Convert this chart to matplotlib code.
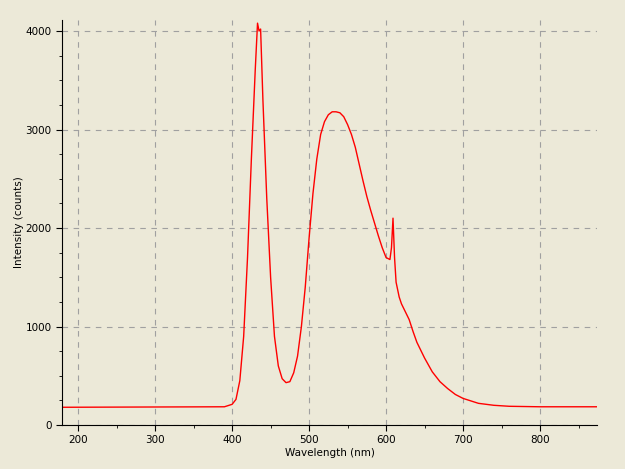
import matplotlib
matplotlib.use("Agg")
import matplotlib.pyplot as plt
from matplotlib.ticker import MultipleLocator

wavelength = [180, 390, 400, 405, 410, 415, 420, 425, 430, 433, 435, 437, 440, 445, 450, 455, 460, 465, 470, 475,
              480, 485, 490, 495, 500, 505, 510, 515, 520, 525, 530, 535, 540, 545, 550, 555, 560, 565, 570, 575,
              580, 585, 590, 595, 600, 605, 607, 609, 611, 613, 617, 620, 625, 630, 635, 640, 650, 660, 670, 680,
              690, 700, 720, 740, 760, 800, 875]
intensity = [180, 185, 210, 260, 450, 900, 1700, 2700, 3600, 4080, 4000, 4020, 3300, 2300, 1500, 900, 600, 470, 430, 440,
             530, 700, 1000, 1400, 1900, 2350, 2700, 2950, 3080, 3150, 3180, 3180, 3170, 3130, 3050, 2950, 2820, 2650, 2480, 2320,
             2180, 2050, 1920, 1800, 1700, 1680, 1800, 2100, 1700, 1450, 1300, 1230, 1150, 1070, 950, 840, 680, 540, 440, 370,
             310, 270, 220, 200, 190, 185, 185]

bg = "#ECE9D8"
fig = plt.figure(figsize=(6.25, 4.69), dpi=100, facecolor=bg)
ax = fig.add_axes([62/625, 44/469, 535/625, 405/469], facecolor=bg)
ax.plot(wavelength, intensity, color="red", lw=1)
ax.set_xlim(179, 874)
ax.set_ylim(0, 4112)
ax.xaxis.set_major_locator(MultipleLocator(100))
ax.xaxis.set_minor_locator(MultipleLocator(50))
ax.yaxis.set_major_locator(MultipleLocator(1000))
ax.yaxis.set_minor_locator(MultipleLocator(250))
ax.grid(True, which="major", color="#A0A0A0", ls=(0, (5, 5)), lw=0.8)
for s in ["top", "right"]:
    ax.spines[s].set_visible(False)
ax.tick_params(labelsize=7.5, length=4)
ax.tick_params(which="minor", length=2)
ax.set_xlabel("Wavelength (nm)", fontsize=7.5, labelpad=2)
ax.set_ylabel("Intensity (counts)", fontsize=7.5, labelpad=1)
fig.savefig("out.png", dpi=100, facecolor=bg)
